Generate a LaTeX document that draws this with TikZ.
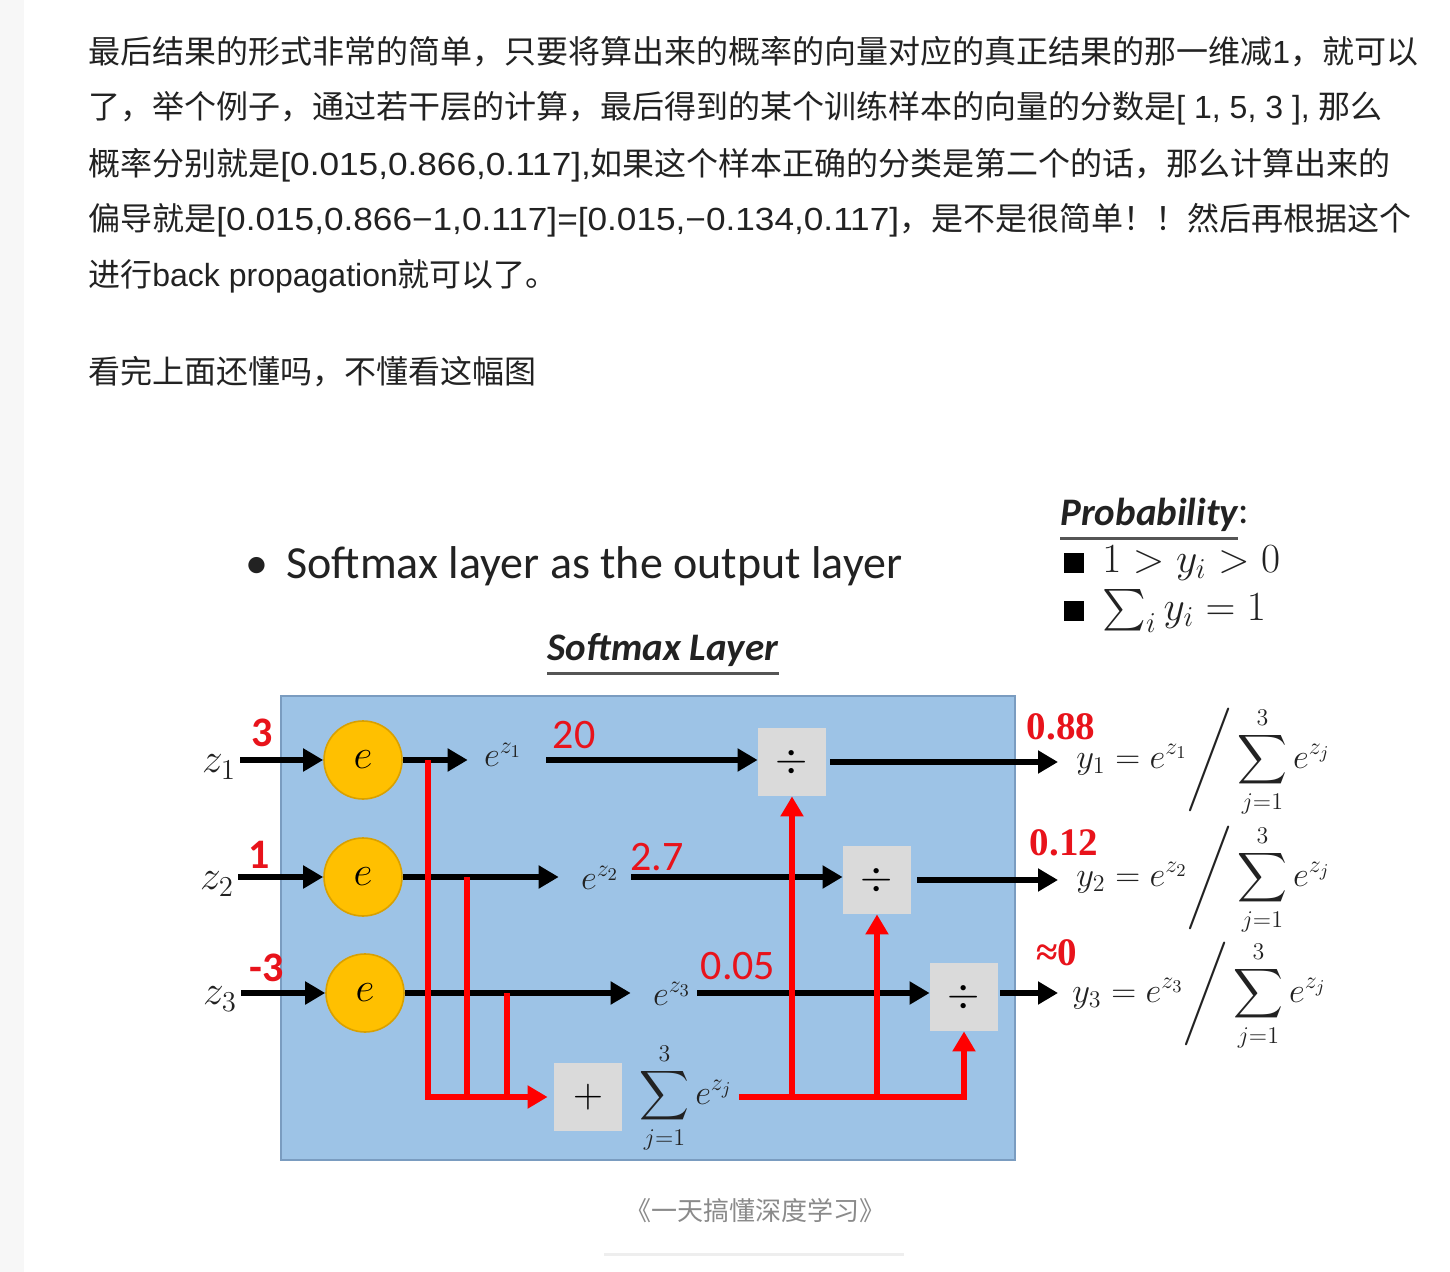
\documentclass[tikz,border=0pt]{standalone}
\usepackage{fontspec}
\usepackage{amsmath}
\usetikzlibrary{arrows.meta}
\newfontfamily\cjk{Noto Sans CJK SC}
\newfontfamily\latfont{Liberation Sans}
\newfontfamily\numfont[FakeStretch=1.1]{Liberation Sans}
\newfontfamily\calfont{Carlito}
\newfontfamily\timesfont{Liberation Serif}
\newcommand\latn[1]{{\latfont #1}}
\newcommand\numtxt[1]{{\numfont #1}}
\definecolor{textc}{HTML}{222222}
\definecolor{stripc}{HTML}{F7F7F7}
\definecolor{boxblue}{HTML}{9DC3E6}
\definecolor{boxedge}{HTML}{7A9CC0}
\definecolor{orangeF}{HTML}{FFC000}
\definecolor{orangeD}{HTML}{D9A000}
\definecolor{opgray}{HTML}{DADADA}
\definecolor{redc}{HTML}{FF0000}
\definecolor{redt}{HTML}{E8131B}
\definecolor{capgray}{HTML}{8A8A8A}
\definecolor{rulec}{HTML}{EEEEEE}
\definecolor{ulgray}{HTML}{555555}
\begin{document}
\begin{tikzpicture}[x=0.5pt,y=-0.5pt,
  para/.style={anchor=west, inner sep=0, text=textc, font=\cjk\fontsize{16}{19}\selectfont},
  circ/.style={circle, fill=orangeF, draw=orangeD, line width=0.8pt, minimum size=39pt, inner sep=0, font=\fontsize{21}{24}\selectfont},
  opbox/.style={rectangle, fill=opgray, minimum size=34pt, inner sep=0, font=\fontsize{20}{24}\selectfont},
  zlab/.style={inner sep=0, text=textc, font=\fontsize{20}{24}\selectfont},
  elab/.style={inner sep=0, text=textc, font=\fontsize{18}{22}\selectfont},
  rlabB/.style={inner sep=0, text=redt, font=\calfont\bfseries\fontsize{21}{24}\selectfont},
  rlab/.style={inner sep=0, text=redt, font=\calfont\fontsize{21}{24}\selectfont},
  rlabT/.style={inner sep=0, text=redt, font=\timesfont\bfseries\fontsize{19.5}{22}\selectfont},
  form/.style={anchor=west, inner sep=0, text=textc, font=\fontsize{17.5}{21}\selectfont},
  barrow/.style={line width=3pt, -{Triangle[length=10pt,width=11pt]}},
  redline/.style={draw=redc, line width=2.6pt},
  redarrow/.style={redline, -{Triangle[length=10pt,width=11pt]}},
  ulbox/.style={inner sep=0, text=textc, font=\calfont\bfseries\itshape\fontsize{19.5}{22}\selectfont}
]
\useasboundingbox (0,0) rectangle (1450,1272);
\fill[white] (0,0) rectangle (1450,1272);
\fill[stripc] (0,0) rectangle (24,1272);

% paragraph
\node[para] (l1) at (88,52) {最后结果的形式非常的简单，只要将算出来的概率的向量对应的真正结果的那一维减\latn{1}，就可以};
\node[para] (l2) at (88,108) {了，举个例子，通过若干层的计算，最后得到的某个训练样本的向量的分数是\latn{[ 1, 5, 3 ], }那么};
\node[para] (l3) at (88,165) {概率分别就是\numtxt{[0.015,0.866,0.117],}如果这个样本正确的分类是第二个的话，那么计算出来的};
\node[para] (l4) at (88,220) {偏导就是\numtxt{[0.015,0.866−1,0.117]=[0.015,−0.134,0.117]}，是不是很简单！！然后再根据这个};
\node[para] (l5) at (88,276) {进行\latn{back propagation}就可以了。};
\node[para] (l6) at (88,372) {看完上面还懂吗，不懂看这幅图};

% headings
\node[anchor=west, inner sep=0, text=textc, font=\calfont\fontsize{23}{26}\selectfont] (head) at (245,566) {•\, Softmax layer as the output layer};
\node[ulbox, anchor=west] (prob) at (1060,515) {Probability};
\node[ulbox, anchor=west, font=\calfont\fontsize{19.5}{22}\selectfont] (colon) at (prob.east) {:};
\draw[ulgray, line width=1.5pt] ([yshift=-3pt]prob.south west) -- ([yshift=-3pt]prob.south east);
\node[fill=black, minimum size=10pt, inner sep=0] (sq1) at (1074,563) {};
\node[fill=black, minimum size=10pt, inner sep=0] (sq2) at (1074,611) {};
\node[anchor=west, inner sep=0, text=textc, font=\fontsize{20}{24}\selectfont] (cond1) at (1102,563) {$1>y_i>0$};
\node[anchor=west, inner sep=0, text=textc, font=\fontsize{20}{24}\selectfont] (cond2) at (1102,611) {$\textstyle\sum_i y_i=1$};
\node[ulbox] (sl) at (663,650) {Softmax Layer};
\draw[ulgray, line width=1.5pt] ([yshift=-3pt]sl.south west) -- ([yshift=-3pt]sl.south east);

% layer box
\draw[fill=boxblue, draw=boxedge, line width=1pt] (281,696) rectangle (1015,1160);

% circles and inputs
\node[circ] (c1) at (363,760) {$e$};
\node[circ] (c2) at (363,877) {$e$};
\node[circ] (c3) at (365,993) {$e$};
\node[zlab] (z1) at (219,767) {$z_1$};
\node[zlab] (z2) at (217,884) {$z_2$};
\node[zlab] (z3) at (220,999) {$z_3$};
\draw[barrow, shorten <=2pt] (z1.east |- c1.west) -- (c1.west);
\draw[barrow, shorten <=2pt] (z2.east |- c2.west) -- (c2.west);
\draw[barrow, shorten <=2pt] (z3.east |- c3.west) -- (c3.west);
\node[rlabB] (v1) at (262,733) {3};
\node[rlabB] (v2) at (259,855) {1};
\node[rlabB] (v3) at (267,968) {-3};

% exp outputs
\node[elab] (ez1) at (503,755) {$e^{z_1}$};
\node[elab] (ez2) at (600,878) {$e^{z_2}$};
\node[elab] (ez3) at (672,994) {$e^{z_3}$};
\node[rlab] (w1) at (574,735) {20};
\node[rlab] (w2) at (657,857) {2.7};
\node[rlab] (w3) at (738,966) {0.05};

% operator boxes
\node[opbox] (div1) at (792,762) {$\div$};
\node[opbox] (div2) at (877,880) {$\div$};
\node[opbox] (div3) at (964,997) {$\div$};
\node[opbox] (plus) at (588,1097) {$+$};
\node[inner sep=0, text=textc, font=\fontsize{17.5}{21}\selectfont] (sumj) at (686,1098) {$\displaystyle\sum_{j=1}^{3} e^{z_j}$};

% black arrows
\draw[barrow, shorten >=8pt] (c1.east) -- (ez1.west |- c1.east);
\draw[barrow, shorten <=12pt] (ez1.east |- c1.east) -- (div1.west |- c1.east);
\draw[barrow, shorten >=11pt] (c2.east) -- (ez2.west |- c2.east);
\draw[barrow, shorten <=6pt] (ez2.east |- c2.east) -- (div2.west |- c2.east);
\draw[barrow, shorten >=11pt] (c3.east) -- (ez3.west |- c3.east);
\draw[barrow, shorten <=3pt] (ez3.east |- c3.east) -- (div3.west |- c3.east);

% outputs
\node[form] (f1) at (1076,762) {$\displaystyle y_1=e^{z_1}\Bigg/\sum_{j=1}^{3}e^{z_j}$};
\node[form] (f2) at (1076,880) {$\displaystyle y_2=e^{z_2}\Bigg/\sum_{j=1}^{3}e^{z_j}$};
\node[form] (f3) at (1072,996) {$\displaystyle y_3=e^{z_3}\Bigg/\sum_{j=1}^{3}e^{z_j}$};
\draw[barrow, shorten <=2pt, shorten >=9pt] (div1.east) -- (f1.west |- div1.east);
\draw[barrow, shorten <=3pt, shorten >=9pt] (div2.east) -- (f2.west |- div2.east);
\draw[barrow, shorten <=1pt, shorten >=7pt] (div3.east |- c3.east) -- (f3.west |- c3.east);
\node[rlabT] (p1) at (1061,727) {0.88};
\node[rlabT] (p2) at (1064,843) {0.12};
\node[rlabT] (p3) at (1057,953) {≈0};

% red connections
\coordinate (t1) at (428,760);
\coordinate (t2) at (467,877);
\coordinate (t3) at (507,993);
\draw[redarrow, shorten >=3pt] (t1) |- (plus.west);
\draw[redline] (t2) -- (t2 |- plus.west);
\draw[redline] (t3) -- (t3 |- plus.west);
\draw[redarrow, shorten <=3pt] (sumj.east |- plus.east) -| (div3.south);
\draw[redarrow] (div1.south |- plus.east) -- (div1.south);
\draw[redarrow] (div2.south |- plus.east) -- (div2.south);

% caption
\node[inner sep=0, text=capgray, font=\cjk\fontsize{13}{15}\selectfont] (cap) at (755,1211) {《一天搞懂深度学习》};
\coordinate (r1) at (604,1254);
\coordinate (r2) at (904,1254);
\draw[rulec, line width=1.5pt] (r1) -- (r2);
\end{tikzpicture}
\end{document}
